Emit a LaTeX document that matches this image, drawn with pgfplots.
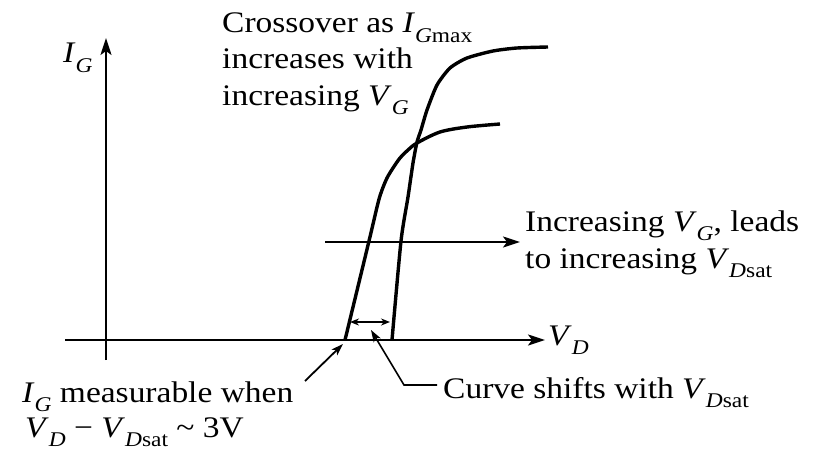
\documentclass[border=0pt]{standalone}
\usepackage{fontspec}
\setmainfont{Liberation Serif}
\usepackage{pgfplots}
\pgfplotsset{compat=1.18}
\usetikzlibrary{arrows.meta}

% text size and subscripts used in the labels
\newcommand{\lbl}{\fontsize{30}{36}\selectfont}
\newcommand{\sub}[1]{\raisebox{-0.33em}{\fontsize{21}{21}\selectfont #1}}
\newcommand{\IG}{\textit{I}\sub{\textit{G}}}
\newcommand{\VG}{\textit{V}\sub{\textit{G}}}
\newcommand{\VD}{\textit{V}\sub{\textit{D}}}
\newcommand{\VDsat}{\textit{V}\sub{\textit{D}sat}}
\newcommand{\IGmax}{\textit{I}\sub{\textit{G}max}}

\begin{document}
\begin{tikzpicture}[
  txt/.style={anchor=base west, inner sep=0pt, xscale=1.12, font=\lbl},
  bigarrow/.style={-{Stealth[length=17bp,width=11bp,inset=4bp]}},
  smallarrow/.style={-{Stealth[length=12bp,width=8bp,inset=3bp]}}
]
\begin{axis}[
  scale only axis, width=819bp, height=454bp,
  xmin=0, xmax=819, ymin=0, ymax=454, y dir=reverse,
  hide axis, clip=false
]
% axes of the sketch
\draw[line width=2.2bp, bigarrow] (axis cs:106,360) -- (axis cs:106,38);
\draw[line width=2.2bp, bigarrow] (axis cs:65,340) -- (axis cs:545,340);

% gate current versus drain voltage, lower gate voltage
\addplot[black, line width=3.4bp, smooth, tension=0.5] coordinates {
  (345,340) (369,241) (378,203) (382,190) (387,178) (393,168)
  (400,158) (408,150) (417,143) (440,132) (467,127) (500,124)
};
% gate current versus drain voltage, higher gate voltage
\addplot[black, line width=3.4bp, smooth, tension=0.4] coordinates {
  (392,340) (401,241) (408,197) (413,163) (417,142) (421,130)
  (427,110) (437,85) (450,68) (467,58) (493,51) (517,48) (548,47)
};

% arrow marking the increasing gate voltage
\draw[line width=2.2bp, bigarrow] (axis cs:325,242) -- (axis cs:520,242);
% shift between the two curves
\draw[line width=1.8bp, {Stealth[length=9bp,width=7bp]}-{Stealth[length=9bp,width=7bp]}]
  (axis cs:350,322) -- (axis cs:390,322);
% leaders
\draw[line width=1.8bp, smallarrow] (axis cs:305,381) -- (axis cs:343,344);
\draw[line width=1.6bp, smallarrow] (axis cs:437,385) -- (axis cs:404,385) -- (axis cs:371,330);

% labels
\node[txt] at (axis cs:63,63) {\IG};
\node[txt] at (axis cs:548,345) {\VD};
\node[txt] at (axis cs:222,33) {Crossover as \IGmax};
\node[txt] at (axis cs:222,69) {increases with};
\node[txt] at (axis cs:222,105) {increasing \VG};
\node[txt] at (axis cs:525,231) {Increasing \VG, leads};
\node[txt] at (axis cs:525,268) {to increasing \VDsat};
\node[txt] at (axis cs:443,398) {Curve shifts with \VDsat};
\node[txt] at (axis cs:22,402) {\IG\ measurable when};
\node[txt] at (axis cs:25,437) {\VD\ − \VDsat\ {\char"7E} 3V};

\path (axis cs:0,0) rectangle (axis cs:819,454);
\end{axis}
\end{tikzpicture}
\end{document}
